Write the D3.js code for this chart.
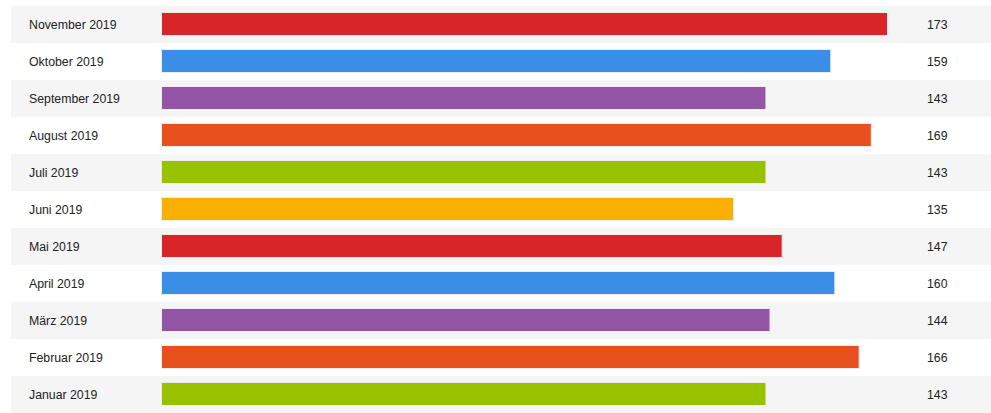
<!DOCTYPE html>
<html>
<head>
<meta charset="utf-8">
<script src="https://cdn.jsdelivr.net/npm/d3@7"></script>
<style>
    html, body { margin: 0; padding: 0; background: #fff; }
    svg { display: block; }
</style>
</head>
<body>
<svg id="chart"></svg>
<script>
const months = ["November 2019", "Oktober 2019", "September 2019", "August 2019", "Juli 2019",
    "Juni 2019", "Mai 2019", "April 2019", "März 2019", "Februar 2019", "Januar 2019"];
const counts = [173, 159, 143, 169, 143, 135, 147, 160, 144, 166, 143];
const palette = ["#d82528", "#3a8ee6", "#9355a5", "#e8511e", "#98c200", "#f9b000"];

const wSvg = 991, hSvg = 413;
const svg = d3.select("#chart").attr("width", wSvg).attr("height", hSvg);

const rows = months.map((m, i) => ({ month: m, count: counts[i] }));

const yScale = d3.scaleBand(months, [6, hSvg]);
// bars start at x=161, longest ends near x=888
const xScale = d3.scaleLinear([0, d3.max(counts)], [26, 727]);
const barLeft = 161;

const row = svg.selectAll("g.row")
    .data(rows)
    .enter()
    .append("g")
    .attr("class", "row")
    .attr("transform", d => `translate(0,${yScale(d.month)})`);

row.append("rect")
    .attr("x", 11)
    .attr("width", wSvg - 11)
    .attr("height", yScale.bandwidth())
    .attr("fill", (d, i) => i % 2 === 0 ? "#f5f5f5" : "#ffffff");

row.append("rect")
    .attr("x", barLeft + 0.5)
    .attr("y", 6.5)
    .attr("width", d => xScale(d.count) - 1)
    .attr("height", 23)
    .attr("fill", (d, i) => palette[i % palette.length])
    .attr("stroke", "#ececec")
    .attr("stroke-width", 1);

row.append("text")
    .attr("x", 29)
    .attr("y", yScale.bandwidth() / 2 + 4.5)
    .attr("font-family", "Liberation Sans, Arial, sans-serif")
    .attr("font-size", 12.3)
    .attr("fill", "#222")
    .text(d => d.month);

row.append("text")
    .attr("x", 927)
    .attr("y", yScale.bandwidth() / 2 + 4.5)
    .attr("font-family", "Liberation Sans, Arial, sans-serif")
    .attr("font-size", 12.3)
    .attr("fill", "#222")
    .text(d => d.count);
</script>
</body>
</html>
